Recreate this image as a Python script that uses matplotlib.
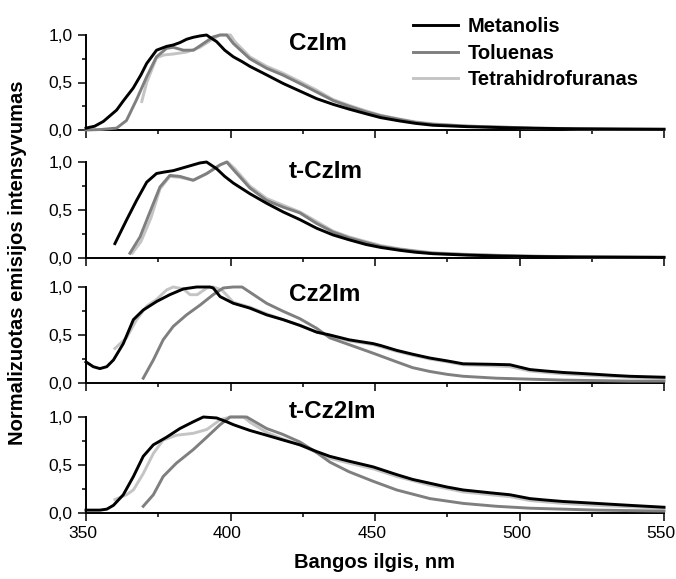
"""
Normalized emission spectra of CzIm, t-CzIm, Cz2Im and t-Cz2Im
in methanol, toluene and THF (four stacked panels).
"""

import matplotlib
matplotlib.use("Agg")
import matplotlib.pyplot as plt
import matplotlib.transforms as mtransforms
from matplotlib.ticker import MultipleLocator

plt.rcParams["font.family"] = ["Liberation Sans", "DejaVu Sans"]

SOLVENTS = ["Metanolis", "Toluenas", "Tetrahidrofuranas"]
COLORS = ["#000000", "#7f7f7f", "#c4c4c4"]
PANEL_NAMES = ["CzIm", "t-CzIm", "Cz2Im", "t-Cz2Im"]

# ── CzIm ──
czim_meoh_x = [350, 353, 356, 360.6, 363, 366.3, 369, 371, 374.4, 377.9, 380.2, 382.5, 384.8, 387,
               389.4, 391.7, 395.2, 398, 401, 404, 406.7, 412.5, 418.2, 424, 429.8, 435.5, 441, 447,
               452, 458.6, 464, 470, 482, 494, 504.7, 520, 535, 550]
czim_meoh_y = [0.02, 0.04, 0.09, 0.21, 0.31, 0.44, 0.58, 0.70, 0.84, 0.88, 0.895, 0.92, 0.955, 0.975,
               0.99, 1.0, 0.93, 0.84, 0.77, 0.72, 0.67, 0.58, 0.49, 0.41, 0.33, 0.27, 0.22, 0.17,
               0.13, 0.095, 0.07, 0.05, 0.035, 0.025, 0.018, 0.012, 0.009, 0.007]
czim_tol_x = [350, 355, 360.6, 364, 367.5, 371, 374.4, 377.9, 380.2, 383.7, 387.2, 390.6, 394, 396.4,
              398.7, 401, 406.7, 412.5, 418, 424, 429.8, 435.5, 441, 447, 452, 458.6, 464, 470, 482,
              494, 505, 520, 535, 550]
czim_tol_y = [0.0, 0.005, 0.02, 0.10, 0.32, 0.56, 0.77, 0.86, 0.87, 0.84, 0.84, 0.91, 0.98, 1.0,
              1.0, 0.91, 0.75, 0.65, 0.58, 0.49, 0.40, 0.31, 0.25, 0.19, 0.15, 0.11, 0.08, 0.06, 0.04,
              0.03, 0.02, 0.013, 0.01, 0.008]
czim_thf_x = [369.3, 371, 374.4, 377, 380.2, 384.8, 389.4, 394, 396.4, 400, 401.5, 406.7, 412.5, 418,
              424, 429.8, 435.5, 441, 447, 452, 458.6, 464, 470, 482, 494, 505, 520, 535, 550]
czim_thf_y = [0.30, 0.50, 0.76, 0.79, 0.80, 0.82, 0.87, 0.96, 1.0, 1.0, 0.93, 0.77, 0.67, 0.60,
              0.51, 0.42, 0.32, 0.26, 0.20, 0.155, 0.115, 0.085, 0.065, 0.042, 0.03, 0.02, 0.013, 0.01, 0.008]

# ── t-CzIm ──
tczim_meoh_x = [360, 364.1, 367.5, 371, 374.4, 377, 380.2, 384.8, 389.4, 391.7, 395.2, 398, 401, 406.7,
                412.5, 418.2, 424, 429.8, 435.5, 441, 447, 452, 458.6, 464, 470, 482, 494, 505, 520, 535, 550]
tczim_meoh_y = [0.15, 0.40, 0.60, 0.79, 0.88, 0.895, 0.91, 0.95, 0.99, 1.0, 0.93, 0.85, 0.78, 0.67,
                0.57, 0.48, 0.40, 0.31, 0.24, 0.19, 0.14, 0.11, 0.08, 0.06, 0.045, 0.03, 0.02, 0.015, 0.01, 0.008, 0.006]
tczim_tol_x = [365.2, 368.7, 372, 375.6, 379, 382.5, 387.1, 391.8, 396.4, 398.7, 401, 406.7, 412.5, 418.2,
               424, 429.8, 435.5, 441, 447, 452, 458.6, 464, 470, 482, 494, 505, 520, 535, 550]
tczim_tol_y = [0.05, 0.22, 0.47, 0.74, 0.86, 0.85, 0.81, 0.88, 0.97, 1.0, 0.92, 0.73, 0.60, 0.53,
               0.47, 0.36, 0.27, 0.21, 0.16, 0.12, 0.09, 0.07, 0.05, 0.035, 0.025, 0.018, 0.012, 0.01, 0.008]
tczim_thf_x = [366, 369, 372.5, 375.6, 379, 382.5, 387.1, 391.8, 396.4, 399, 401.5, 406.7, 412.5, 418.2,
               424, 429.8, 435.5, 441, 447, 452, 458.6, 464, 470, 482, 494, 505, 520, 535, 550]
tczim_thf_y = [0.05, 0.17, 0.42, 0.72, 0.85, 0.84, 0.81, 0.88, 0.97, 1.0, 0.93, 0.75, 0.62, 0.55,
               0.48, 0.38, 0.28, 0.22, 0.17, 0.13, 0.095, 0.075, 0.055, 0.038, 0.027, 0.019, 0.013, 0.01, 0.008]

# ── Cz2Im ──
cz2im_meoh_x = [350, 352.5, 354.8, 357.2, 359.5, 362.9, 366.4, 369.8, 374.5, 379, 383.7, 388.3, 392.9,
                394, 396.4, 401, 406.7, 412.5, 418.2, 424, 429.8, 434.4, 441, 449.4, 452, 457.5, 463,
                469, 475, 480.5, 490, 496.7, 503.6, 509, 515, 521, 526.7, 532, 538.2, 544, 550]
cz2im_meoh_y = [0.22, 0.17, 0.15, 0.17, 0.24, 0.41, 0.66, 0.76, 0.85, 0.92, 0.98, 1.0, 1.0,
                0.99, 0.90, 0.83, 0.78, 0.71, 0.66, 0.60, 0.53, 0.50, 0.45, 0.41, 0.39, 0.34, 0.30,
                0.26, 0.23, 0.20, 0.195, 0.19, 0.14, 0.125, 0.11, 0.10, 0.09, 0.08, 0.07, 0.065, 0.06]
cz2im_tol_x = [369.8, 373.3, 376.7, 380.2, 384.8, 389.4, 394, 397.5, 401, 404, 408, 412.5, 418, 424,
               429.8, 434.4, 441, 449.4, 457.5, 463, 469, 475, 480.5, 492, 503.6, 515, 526.7, 538, 550]
cz2im_tol_y = [0.05, 0.24, 0.45, 0.59, 0.71, 0.81, 0.92, 0.99, 1.0, 1.0, 0.92, 0.83, 0.75, 0.67,
               0.57, 0.47, 0.40, 0.31, 0.22, 0.16, 0.12, 0.09, 0.07, 0.05, 0.04, 0.03, 0.025, 0.02, 0.02]
cz2im_thf_x = [360, 364, 367.5, 371, 374.4, 377.9, 380.2, 383.7, 386, 388.5, 391.8, 394, 397, 401,
               406.7, 412.5, 418.2, 424, 429.8, 434.4, 441, 449.4, 457.5, 463, 469, 475, 480.5, 490,
               496.7, 503.6, 509, 515, 526.7, 538.2, 550]
cz2im_thf_y = [0.36, 0.47, 0.66, 0.80, 0.87, 0.97, 1.0, 0.98, 0.92, 0.92, 0.99, 1.0, 0.97, 0.84,
               0.79, 0.72, 0.66, 0.60, 0.53, 0.49, 0.44, 0.40, 0.33, 0.29, 0.25, 0.22, 0.19, 0.18,
               0.17, 0.125, 0.11, 0.095, 0.075, 0.06, 0.05]

# ── t-Cz2Im ──
tcz2im_meoh_x = [350, 354.8, 357.2, 359.5, 362.9, 366.4, 369.8, 373.3, 377.9, 382.5, 387.1, 390.6, 395.2,
                 398.7, 401, 406.7, 412.5, 418.2, 424, 429.8, 434.4, 441, 449.4, 457.5, 463, 469, 475,
                 480.5, 490, 496.7, 503.6, 509, 515, 521, 526.7, 538, 550]
tcz2im_meoh_y = [0.03, 0.03, 0.04, 0.08, 0.19, 0.38, 0.59, 0.71, 0.79, 0.88, 0.95, 1.0, 0.99,
                 0.95, 0.92, 0.86, 0.81, 0.76, 0.71, 0.64, 0.59, 0.54, 0.48, 0.40, 0.35, 0.31, 0.27,
                 0.24, 0.21, 0.19, 0.15, 0.135, 0.12, 0.11, 0.10, 0.08, 0.06]
tcz2im_tol_x = [369.8, 373.3, 376.7, 381.3, 387.1, 391.8, 396.4, 399.9, 405.6, 412.5, 418, 424, 429.8,
                434.4, 441, 449.4, 457.5, 469, 480.5, 492, 503.6, 515, 526.7, 538, 550]
tcz2im_tol_y = [0.07, 0.19, 0.38, 0.52, 0.66, 0.79, 0.92, 1.0, 1.0, 0.88, 0.82, 0.74, 0.63,
                0.53, 0.43, 0.33, 0.24, 0.15, 0.10, 0.07, 0.05, 0.04, 0.03, 0.025, 0.02]
tcz2im_thf_x = [360, 364, 366.4, 369.8, 373.3, 376.7, 381.3, 387.1, 391.8, 396.4, 399.9, 404.5, 407,
                412.5, 418.2, 424, 429.8, 434.4, 441, 449.4, 457.5, 469, 480.5, 496.7, 503.6, 515,
                526.7, 538, 550]
tcz2im_thf_y = [0.14, 0.19, 0.24, 0.41, 0.62, 0.76, 0.81, 0.83, 0.87, 0.97, 1.0, 1.0, 0.94,
                0.84, 0.77, 0.71, 0.63, 0.57, 0.52, 0.46, 0.38, 0.29, 0.22, 0.17, 0.13, 0.10,
                0.08, 0.065, 0.05]

PANELS = [
    [(czim_meoh_x, czim_meoh_y), (czim_tol_x, czim_tol_y), (czim_thf_x, czim_thf_y)],
    [(tczim_meoh_x, tczim_meoh_y), (tczim_tol_x, tczim_tol_y), (tczim_thf_x, tczim_thf_y)],
    [(cz2im_meoh_x, cz2im_meoh_y), (cz2im_tol_x, cz2im_tol_y), (cz2im_thf_x, cz2im_thf_y)],
    [(tcz2im_meoh_x, tcz2im_meoh_y), (tcz2im_tol_x, tcz2im_tol_y), (tcz2im_thf_x, tcz2im_thf_y)],
]


def main():
    W, H = 676, 579
    fig = plt.figure(figsize=(W / 100, H / 100), dpi=100)
    fig.patch.set_facecolor("white")

    left, right = 86, 664
    tops = [35, 162, 287, 417]
    bots = [130, 258, 383, 513]
    title_y = [43.5, 172, 294.5, 412]

    axes = []
    for i, series in enumerate(PANELS):
        ax = fig.add_axes([left / W, 1 - bots[i] / H, (right - left) / W, (bots[i] - tops[i]) / H])
        # draw lightest first so black sits on top
        for j in [2, 1, 0]:
            x, y = series[j]
            ax.plot(x, y, color=COLORS[j], lw=2.1, label=SOLVENTS[j], clip_on=False,
                    solid_joinstyle="round", zorder=3 + (2 - j))
        ax.set_xlim(350, 550)
        ax.set_ylim(0, 1.0)
        ax.spines["top"].set_visible(False)
        ax.spines["right"].set_visible(False)
        ax.spines["left"].set_linewidth(1.4)
        ax.spines["bottom"].set_linewidth(1.4)
        ax.xaxis.set_major_locator(MultipleLocator(50))
        ax.xaxis.set_minor_locator(MultipleLocator(25))
        ax.set_yticks([0, 0.5, 1.0])
        ax.set_yticklabels(["0,0", "0,5", "1,0"])
        ax.yaxis.set_minor_locator(MultipleLocator(0.25))
        ax.tick_params(which="major", direction="out", length=5.5, width=1.1, labelsize=12.5, pad=4)
        ax.tick_params(which="minor", direction="out", length=3.2, width=1.1)
        if i < 3:
            ax.tick_params(axis="x", labelbottom=False)
        else:
            # nudge x labels a touch left so "550" stays inside the canvas
            shift = mtransforms.ScaledTranslation(-3 / 100, 0, fig.dpi_scale_trans)
            for lab in ax.get_xticklabels():
                lab.set_transform(lab.get_transform() + shift)
        fig.text(289 / W, 1 - title_y[i] / H, PANEL_NAMES[i], fontsize=17.5, fontweight="bold",
                 ha="left", va="center")
        axes.append(ax)

    # legend in the top panel, black first
    h, l = axes[0].get_legend_handles_labels()
    order = [2, 1, 0]
    fig.legend([h[k] for k in order], [l[k] for k in order],
               loc="upper left", bbox_to_anchor=(413 / W, 1 - 17 / H),
               frameon=False, prop={"weight": "bold", "size": 14.5},
               handlelength=2.25, handletextpad=0.45, labelspacing=0.38, borderpad=0,
               borderaxespad=0)

    fig.text(374 / W, 1 - 563 / H, "Bangos ilgis, nm", fontsize=14.5, fontweight="bold",
             ha="center", va="center")
    fig.text(18 / W, 1 - 263 / H, "Normalizuotas emisijos intensyvumas", fontsize=14.5,
             fontweight="bold", ha="center", va="center", rotation=90)

    fig.savefig("out.png", dpi=100, facecolor="white")
    plt.close()


if __name__ == "__main__":
    main()
